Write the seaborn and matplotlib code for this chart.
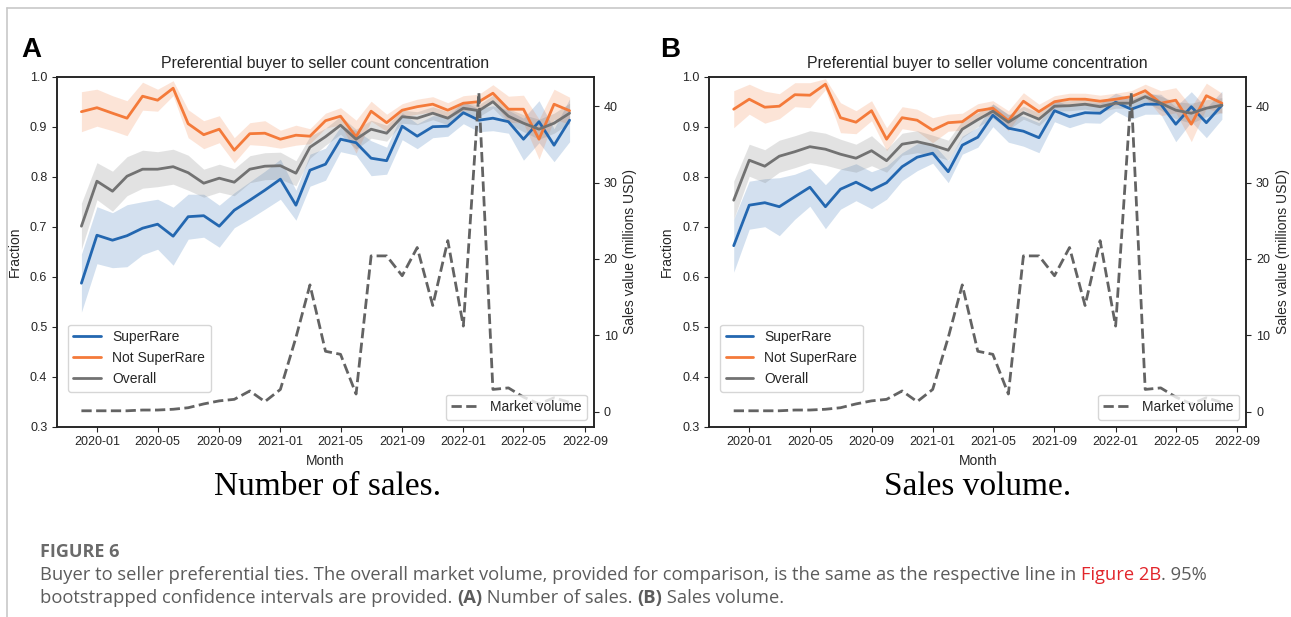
import matplotlib
matplotlib.use("Agg")
import matplotlib.pyplot as plt
import matplotlib.dates as mdates
import seaborn as sns
import pandas as pd

# monthly points, 2019-12 .. 2022-08
months = pd.date_range("2019-12-01", periods=33, freq="MS")

# overall market volume (millions USD), same line in both panels
market_volume = [0.1, 0.1, 0.1, 0.1, 0.2, 0.2, 0.3, 0.5, 1.0, 1.4, 1.6, 2.7, 1.3, 2.9, 9.7,
                 16.6, 7.9, 7.5, 2.3, 20.4, 20.4, 17.8, 21.5, 13.9, 22.4, 11.2, 41.8, 2.9,
                 3.1, 1.9, 1.0, 1.8, 1.2]

# panel A - count concentration
a_superrare = [0.587, 0.683, 0.673, 0.682, 0.697, 0.705, 0.681, 0.720, 0.722, 0.701, 0.733,
               0.753, 0.773, 0.795, 0.743, 0.813, 0.825, 0.875, 0.868, 0.837, 0.832, 0.901,
               0.881, 0.900, 0.901, 0.928, 0.913, 0.917, 0.910, 0.875, 0.910, 0.863, 0.913]
a_superrare_ci = [0.058, 0.057, 0.055, 0.062, 0.053, 0.050, 0.058, 0.045, 0.043, 0.042, 0.035,
                  0.037, 0.038, 0.040, 0.030, 0.032, 0.032, 0.025, 0.025, 0.035, 0.027, 0.027,
                  0.025, 0.022, 0.020, 0.022, 0.023, 0.025, 0.023, 0.042, 0.042, 0.033, 0.043]
a_not_superrare = [0.930, 0.938, 0.927, 0.917, 0.961, 0.953, 0.977, 0.906, 0.884, 0.895, 0.853,
                   0.886, 0.887, 0.875, 0.883, 0.881, 0.912, 0.921, 0.880, 0.931, 0.908, 0.933,
                   0.940, 0.945, 0.933, 0.947, 0.950, 0.967, 0.935, 0.935, 0.875, 0.945, 0.932]
a_not_superrare_ci = [0.040, 0.037, 0.035, 0.035, 0.028, 0.022, 0.015, 0.028, 0.028, 0.027,
                      0.025, 0.022, 0.025, 0.018, 0.020, 0.015, 0.015, 0.017, 0.033, 0.020,
                      0.017, 0.013, 0.015, 0.015, 0.015, 0.015, 0.015, 0.017, 0.026, 0.028,
                      0.040, 0.030, 0.027]
a_overall = [0.701, 0.791, 0.771, 0.801, 0.815, 0.815, 0.820, 0.808, 0.787, 0.797, 0.789,
             0.815, 0.821, 0.822, 0.807, 0.859, 0.880, 0.903, 0.875, 0.895, 0.887, 0.920,
             0.917, 0.927, 0.917, 0.937, 0.932, 0.950, 0.921, 0.907, 0.895, 0.907, 0.927]
a_overall_ci = [0.046, 0.037, 0.040, 0.039, 0.038, 0.035, 0.035, 0.035, 0.028, 0.028, 0.027,
                0.027, 0.027, 0.027, 0.025, 0.022, 0.017, 0.018, 0.020, 0.018, 0.016, 0.013,
                0.013, 0.013, 0.013, 0.012, 0.012, 0.013, 0.015, 0.017, 0.020, 0.020, 0.020]

# panel B - volume concentration
b_superrare = [0.662, 0.743, 0.748, 0.740, 0.760, 0.779, 0.740, 0.775, 0.789, 0.773, 0.788,
               0.820, 0.839, 0.847, 0.810, 0.863, 0.879, 0.923, 0.897, 0.891, 0.878, 0.932,
               0.920, 0.928, 0.927, 0.949, 0.935, 0.945, 0.945, 0.905, 0.940, 0.908, 0.943]
b_superrare_ci = [0.053, 0.048, 0.048, 0.058, 0.045, 0.038, 0.044, 0.040, 0.037, 0.037, 0.033,
                  0.028, 0.027, 0.020, 0.022, 0.018, 0.020, 0.023, 0.028, 0.030, 0.030, 0.022,
                  0.022, 0.020, 0.020, 0.018, 0.020, 0.020, 0.020, 0.035, 0.030, 0.030, 0.028]
b_not_superrare = [0.935, 0.955, 0.939, 0.941, 0.964, 0.963, 0.985, 0.918, 0.909, 0.932, 0.875,
                   0.918, 0.913, 0.893, 0.908, 0.910, 0.932, 0.937, 0.912, 0.951, 0.930, 0.950,
                   0.955, 0.955, 0.951, 0.955, 0.960, 0.972, 0.947, 0.953, 0.905, 0.962, 0.947]
b_not_superrare_ci = [0.037, 0.030, 0.032, 0.025, 0.024, 0.025, 0.011, 0.030, 0.023, 0.020,
                      0.023, 0.022, 0.022, 0.025, 0.017, 0.017, 0.014, 0.015, 0.020, 0.017,
                      0.015, 0.012, 0.012, 0.012, 0.012, 0.012, 0.012, 0.013, 0.025, 0.025,
                      0.035, 0.025, 0.020]
b_overall = [0.753, 0.833, 0.821, 0.841, 0.850, 0.860, 0.855, 0.845, 0.837, 0.852, 0.832,
             0.865, 0.870, 0.863, 0.853, 0.895, 0.914, 0.931, 0.909, 0.928, 0.915, 0.941,
             0.942, 0.945, 0.940, 0.947, 0.947, 0.960, 0.947, 0.933, 0.927, 0.937, 0.943]
b_overall_ci = [0.038, 0.032, 0.033, 0.032, 0.032, 0.032, 0.032, 0.030, 0.028, 0.030, 0.023,
                0.022, 0.022, 0.020, 0.020, 0.017, 0.014, 0.014, 0.015, 0.013, 0.013, 0.010,
                0.010, 0.010, 0.010, 0.010, 0.010, 0.010, 0.014, 0.017, 0.020, 0.017, 0.015]

groups = ["SuperRare", "Not SuperRare", "Overall"]
palette = {"SuperRare": "#2367b0", "Not SuperRare": "#f47a3a", "Overall": "#727272"}
market_color = "#636363"

sns.set_style("ticks")
plt.rcParams['font.family'] = ['Liberation Sans', 'DejaVu Sans']
plt.rcParams['axes.edgecolor'] = '#222222'
plt.rcParams['axes.linewidth'] = 1.1


def draw_panel(ax, title, series, cis):
    df = pd.DataFrame({"Month": months})
    for g, vals in zip(groups, series):
        df[g] = vals
    long_df = df.melt("Month", var_name="group", value_name="Fraction")

    sns.lineplot(data=long_df, x="Month", y="Fraction", hue="group", hue_order=groups,
                 palette=palette, linewidth=2, ax=ax)
    for g, vals, ci in zip(groups, series, cis):
        lo = [v - c for v, c in zip(vals, ci)]
        hi = [v + c for v, c in zip(vals, ci)]
        ax.fill_between(months, lo, hi, color=palette[g], alpha=0.2, linewidth=0)

    ax.set_ylim(0.3, 1.0)
    ax.set_title(title, fontsize=11.4)
    ax.set_xlabel("Month", fontsize=10)
    ax.set_ylabel("Fraction", fontsize=10, labelpad=6)
    ax.xaxis.set_major_locator(mdates.MonthLocator(bymonth=[1, 5, 9]))
    ax.xaxis.set_major_formatter(mdates.DateFormatter("%Y-%m"))
    ax.tick_params(labelsize=9)
    ax.legend(loc="lower left", bbox_to_anchor=(0.02, 0.1), borderaxespad=0,
              fontsize=10, fancybox=True)

    ax2 = ax.twinx()
    sns.lineplot(x=months, y=market_volume, ax=ax2, color=market_color, linestyle="--",
                 linewidth=2, label="Market volume")
    ax2.set_ylabel("Sales value (millions USD)", fontsize=10)
    ax2.set_yticks([0, 10, 20, 30, 40])
    ax2.tick_params(labelsize=9)
    ax2.legend(loc="lower right", fontsize=10)
    return ax2


fig = plt.figure(figsize=(12.91, 6.17), dpi=100)
W, H = 1291.0, 617.0

axA = fig.add_axes([57 / W, 1 - 426.7 / H, 537 / W, 350 / H])
axB = fig.add_axes([709.3 / W, 1 - 426.7 / H, 537 / W, 350 / H])

draw_panel(axA, "Preferential buyer to seller count concentration",
           [a_superrare, a_not_superrare, a_overall],
           [a_superrare_ci, a_not_superrare_ci, a_overall_ci])
draw_panel(axB, "Preferential buyer to seller volume concentration",
           [b_superrare, b_not_superrare, b_overall],
           [b_superrare_ci, b_not_superrare_ci, b_overall_ci])

# panel letters and sub captions
fig.text(21 / W, 1 - 50 / H, "A", fontsize=20, weight="bold", va="center", color="black")
fig.text(660 / W, 1 - 50 / H, "B", fontsize=20, weight="bold", va="center", color="black")
fig.text(328 / W, 1 - 487 / H, "Number of sales.", family="Liberation Serif",
         fontsize=24, ha="center", va="center", color="black")
fig.text(978 / W, 1 - 487 / H, "Sales volume.", family="Liberation Serif",
         fontsize=24, ha="center", va="center", color="black")

# page frame lines
fig.add_artist(plt.Line2D([7 / W, 1], [1 - 8 / H, 1 - 8 / H], color="#c8c8c8", lw=1.2))
fig.add_artist(plt.Line2D([7 / W, 7 / W], [0, 1 - 8 / H], color="#c8c8c8", lw=1.2))

# figure caption, written run by run
cap_grey = "#5c5c5c"
fig.text(40 / W, 1 - 552 / H, "FIGURE 6", family="Open Sans", weight="bold",
         fontsize=13, color="#6a6a6a", va="center")

renderer = fig.canvas.get_renderer()


def write_runs(x_px, y_px, runs):
    x = x_px
    for txt, color, weight in runs:
        t = fig.text(x / W, 1 - y_px / H, txt, family="Open Sans", fontsize=13.2,
                     color=color, weight=weight, va="center")
        x += t.get_window_extent(renderer).width


write_runs(40, 575, [
    ("Buyer to seller preferential ties. The overall market volume, provided for comparison, "
     "is the same as the respective line in ", cap_grey, "normal"),
    ("Figure 2B", "#e2252b", "normal"),
    (". 95%", cap_grey, "normal"),
])
write_runs(40, 598, [
    ("bootstrapped confidence intervals are provided. ", cap_grey, "normal"),
    ("(A)", cap_grey, "bold"),
    (" Number of sales. ", cap_grey, "normal"),
    ("(B)", cap_grey, "bold"),
    (" Sales volume.", cap_grey, "normal"),
])

fig.savefig("out.png", dpi=100)
